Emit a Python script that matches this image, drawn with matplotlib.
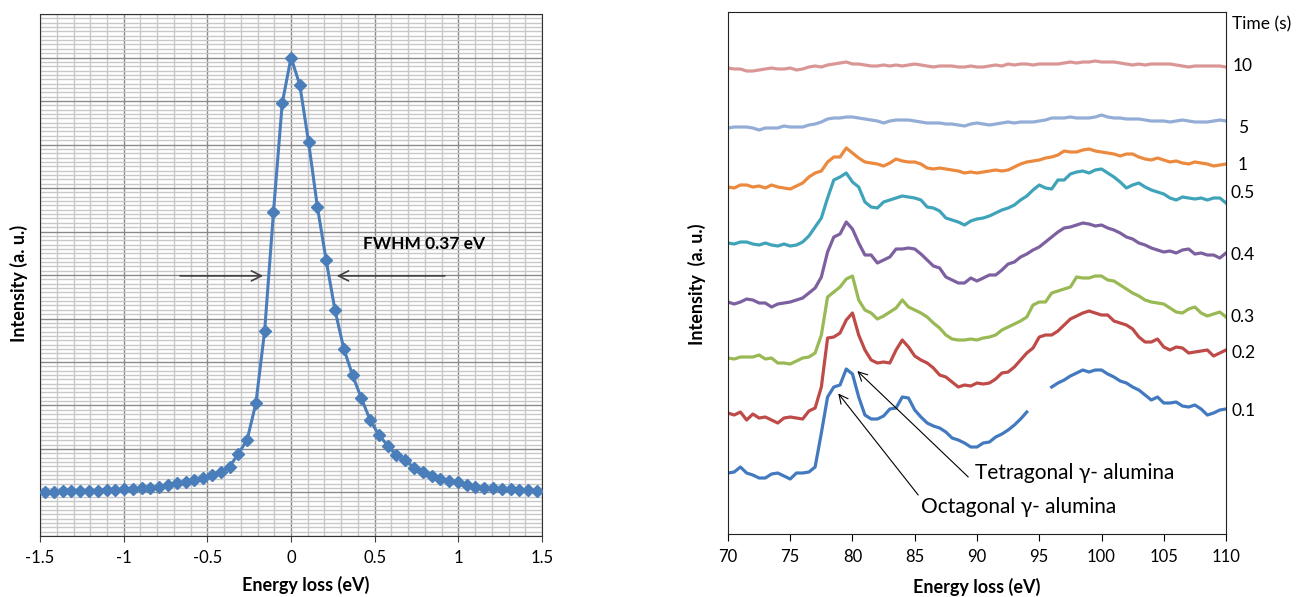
import numpy as np
import matplotlib.pyplot as plt
from matplotlib.ticker import MultipleLocator, FuncFormatter

plt.rcParams['font.family'] = ['Lato', 'DejaVu Sans']
plt.rcParams['axes.unicode_minus'] = False

# ---- left panel: zero loss peak ----
zlp_energy = np.linspace(-1.47, 1.47, 57)
zlp_intensity = [1.02, 1.02, 1.03, 1.03, 1.04, 1.04, 1.04, 1.06, 1.06, 1.07,
                 1.08, 1.10, 1.11, 1.13, 1.17, 1.21, 1.25, 1.29, 1.33, 1.40,
                 1.46, 1.59, 1.89, 2.21, 3.05, 4.72, 7.44, 9.95, 11.0,
                 10.37, 9.05, 7.57, 6.34, 5.20, 4.31, 3.70, 3.17, 2.67, 2.32,
                 2.08, 1.86, 1.75, 1.57, 1.46, 1.39, 1.31, 1.26, 1.23, 1.17,
                 1.13, 1.11, 1.10, 1.08, 1.07, 1.06, 1.06, 1.04]

# ---- right panel: Al L-edge spectra vs time ----
energy = np.linspace(70, 110, 81)
nan = np.nan

spec_01 = [61, 62, 67, 61, 59, 56, 56, 60, 61, 58,
           55, 61, 61, 62, 67, 101, 137, 147, 149, 165,
           160, 137, 119, 115, 115, 118, 125, 126, 137, 136,
           124, 117, 111, 108, 106, 102, 96, 94, 91, 87,
           87, 91, 92, 97, 100, 104, 109, 115, 122, nan,
           nan, nan, 147, 151, 154, 158, 161, 164, 162, 164,
           164, 160, 157, 153, 151, 147, 144, 139, 134, 137,
           131, 131, 132, 128, 127, 129, 125, 119, 121, 124, 125]
spec_02 = [121, 119, 122, 114, 120, 116, 117, 114, 111, 116,
           117, 116, 115, 123, 126, 147, 196, 197, 201, 214,
           221, 199, 184, 174, 171, 172, 171, 184, 194, 187,
           178, 174, 171, 166, 159, 157, 152, 147, 149, 148,
           151, 150, 151, 155, 161, 162, 167, 174, 181, 186,
           197, 199, 199, 203, 209, 215, 218, 221, 223, 221,
           219, 219, 213, 211, 209, 205, 197, 192, 192, 195,
           187, 184, 187, 186, 181, 182, 183, 184, 178, 181, 184]
spec_03 = [176, 175, 177, 177, 177, 179, 175, 176, 171, 171,
           170, 173, 176, 177, 181, 199, 237, 242, 247, 255,
           258, 234, 224, 221, 215, 218, 222, 226, 234, 227,
           224, 221, 217, 211, 206, 199, 195, 194, 194, 195,
           194, 196, 197, 199, 204, 207, 210, 213, 217, 229,
           232, 232, 241, 243, 245, 247, 257, 256, 256, 258,
           258, 254, 253, 249, 245, 241, 238, 234, 232, 231,
           230, 226, 222, 221, 225, 227, 221, 218, 220, 222, 217]
spec_04 = [232, 230, 232, 235, 234, 231, 231, 227, 230, 231,
           232, 234, 236, 241, 246, 257, 282, 297, 300, 312,
           305, 291, 279, 279, 271, 274, 277, 285, 285, 286,
           285, 280, 274, 268, 266, 257, 254, 251, 251, 256,
           253, 256, 259, 259, 264, 270, 272, 277, 280, 284,
           287, 292, 297, 302, 306, 307, 309, 311, 310, 308,
           309, 306, 304, 301, 297, 295, 291, 289, 286, 284,
           282, 283, 281, 284, 285, 280, 281, 279, 279, 276, 281]
spec_05 = [291, 290, 292, 292, 290, 289, 291, 289, 288, 290,
           288, 289, 292, 298, 307, 316, 336, 354, 357, 361,
           352, 347, 332, 327, 326, 332, 334, 336, 338, 337,
           336, 334, 327, 326, 323, 316, 314, 312, 309, 313,
           315, 316, 318, 321, 324, 326, 329, 334, 338, 344,
           349, 346, 345, 354, 354, 360, 362, 363, 361, 364,
           365, 361, 357, 352, 346, 349, 351, 347, 344, 342,
           340, 336, 334, 337, 336, 335, 336, 334, 336, 336, 331]
spec_1 = [347, 346, 349, 349, 347, 348, 346, 349, 347, 346,
          345, 348, 351, 357, 361, 363, 372, 377, 377, 386,
          381, 376, 372, 371, 370, 368, 371, 375, 373, 372,
          372, 370, 366, 365, 366, 365, 364, 363, 361, 362,
          361, 362, 363, 364, 363, 364, 367, 370, 372, 373,
          374, 376, 377, 379, 383, 382, 382, 384, 385, 383,
          382, 381, 380, 378, 380, 380, 377, 375, 374, 376,
          374, 372, 373, 371, 370, 372, 371, 370, 368, 369, 370]
spec_5 = [406, 407, 407, 407, 406, 404, 406, 406, 406, 408,
          407, 407, 407, 409, 410, 412, 415, 416, 416, 417,
          417, 416, 415, 414, 413, 411, 413, 414, 414, 414,
          413, 412, 411, 411, 411, 410, 410, 409, 408, 410,
          411, 410, 409, 410, 411, 412, 411, 412, 412, 412,
          413, 414, 416, 416, 416, 417, 416, 416, 416, 417,
          419, 417, 416, 416, 415, 415, 415, 414, 413, 413,
          413, 412, 413, 414, 413, 412, 412, 412, 413, 414, 413]
spec_10 = [466, 465, 465, 463, 463, 464, 465, 466, 465, 465,
           466, 464, 465, 467, 468, 467, 469, 470, 471, 472,
           470, 470, 469, 468, 468, 469, 468, 469, 468, 469,
           470, 469, 468, 467, 468, 468, 468, 467, 467, 468,
           467, 467, 468, 469, 468, 470, 469, 470, 470, 469,
           470, 470, 470, 470, 471, 472, 471, 472, 472, 473,
           472, 472, 472, 471, 470, 469, 470, 469, 470, 470,
           470, 470, 469, 468, 467, 468, 468, 468, 468, 468, 467]

spectra = [spec_01, spec_02, spec_03, spec_04, spec_05, spec_1, spec_5, spec_10]
time_labels = ['0.1', '0.2', '0.3', '0.4', '0.5', '1', '5', '10']
label_y = [123, 181, 217, 279, 341, 369, 406, 468]
colors = ['#4379BF', '#BE4B48', '#98B954', '#7D60A0',
          '#3FA3BA', '#EB8A3F', '#93ADD6', '#D99694']

fig = plt.figure(figsize=(12.96, 5.97), dpi=100)

# left panel
ax1 = fig.add_axes([0.0309, 0.1022, 0.3873, 0.8743])
ax1.plot(zlp_energy, zlp_intensity, color='#4A7EBB', lw=2.2,
         marker='D', ms=6.5, zorder=3)
ax1.set_xlim(-1.5, 1.5)
ax1.set_ylim(0, 12)
ax1.xaxis.set_major_locator(MultipleLocator(0.5))
ax1.xaxis.set_minor_locator(MultipleLocator(0.1))
ax1.yaxis.set_major_locator(MultipleLocator(1))
ax1.yaxis.set_minor_locator(MultipleLocator(0.1))
ax1.xaxis.set_major_formatter(FuncFormatter(lambda v, p: '%g' % v))
ax1.grid(which='minor', color='#c8c8c8', lw=1.0)
ax1.grid(which='major', color='#8a8a8a', lw=1.0)
ax1.set_axisbelow(True)
ax1.tick_params(axis='y', which='both', length=0, labelleft=False)
ax1.tick_params(axis='x', which='minor', length=0)
ax1.tick_params(axis='x', which='major', length=4, direction='out',
                labelsize=12, pad=6, color='#404040')
for s in ax1.spines.values():
    s.set_color('#333333')
ax1.set_xlabel('Energy loss (eV)', fontsize=13, fontweight='bold')
ax1.xaxis.label.set_va('center')
ax1.xaxis.set_label_coords(0.53, -0.094)
ax1.set_ylabel('Intensity (a. u.)', fontsize=13, fontweight='bold')
ax1.yaxis.label.set_va('center')
ax1.yaxis.set_label_coords(-0.042, 0.484)

arrow = dict(arrowstyle='->', color='#404040', lw=1.2, mutation_scale=18,
             shrinkA=0, shrinkB=0)
ax1.annotate('', xy=(-0.166, 5.98), xytext=(-0.663, 5.98), arrowprops=arrow)
ax1.annotate('', xy=(0.273, 5.98), xytext=(0.920, 5.98), arrowprops=arrow)
ax1.text(0.432, 6.71, 'FWHM 0.37 eV', fontsize=12.5, fontweight='bold',
         va='center', ha='left')

# right panel
ax2 = fig.add_axes([0.5617, 0.1055, 0.3843, 0.8744])
for spec, col in zip(spectra, colors):
    ax2.plot(energy, spec, color=col, lw=2.3)
ax2.set_xlim(70, 110)
ax2.set_ylim(0, 522)
ax2.set_yticks([])
ax2.xaxis.set_major_locator(MultipleLocator(5))
ax2.tick_params(axis='x', length=5, direction='out', labelsize=12, pad=6)
for s in ax2.spines.values():
    s.set_color('#222222')
ax2.set_xlabel('Energy loss (eV)', fontsize=13, fontweight='bold')
ax2.xaxis.label.set_va('center')
ax2.xaxis.set_label_coords(0.5, -0.1015)
ax2.set_ylabel('Intensity  (a. u.)', fontsize=13, fontweight='bold')
ax2.yaxis.label.set_va('center')
ax2.yaxis.set_label_coords(-0.062, 0.479)

for lab, yv in zip(time_labels, label_y):
    ax2.text(111.37, yv, lab, ha='center', va='center', fontsize=12.5,
             clip_on=False)
ax2.text(112.9, 510, 'Time (s)', ha='center', va='center', fontsize=12.5,
         clip_on=False)

thin = dict(arrowstyle='->', color='black', lw=0.8, mutation_scale=16,
            shrinkA=0, shrinkB=0)
ax2.annotate('', xy=(80.39, 163), xytext=(89.3, 57), arrowprops=thin)
ax2.annotate('', xy=(78.86, 140.5), xytext=(85.28, 39), arrowprops=thin)
ax2.text(89.84, 60.7, 'Tetragonal γ- alumina', fontsize=15,
         ha='left', va='center')
ax2.text(85.5, 27.3, 'Octagonal γ- alumina', fontsize=15,
         ha='left', va='center')

fig.savefig('out.png', dpi=100)
